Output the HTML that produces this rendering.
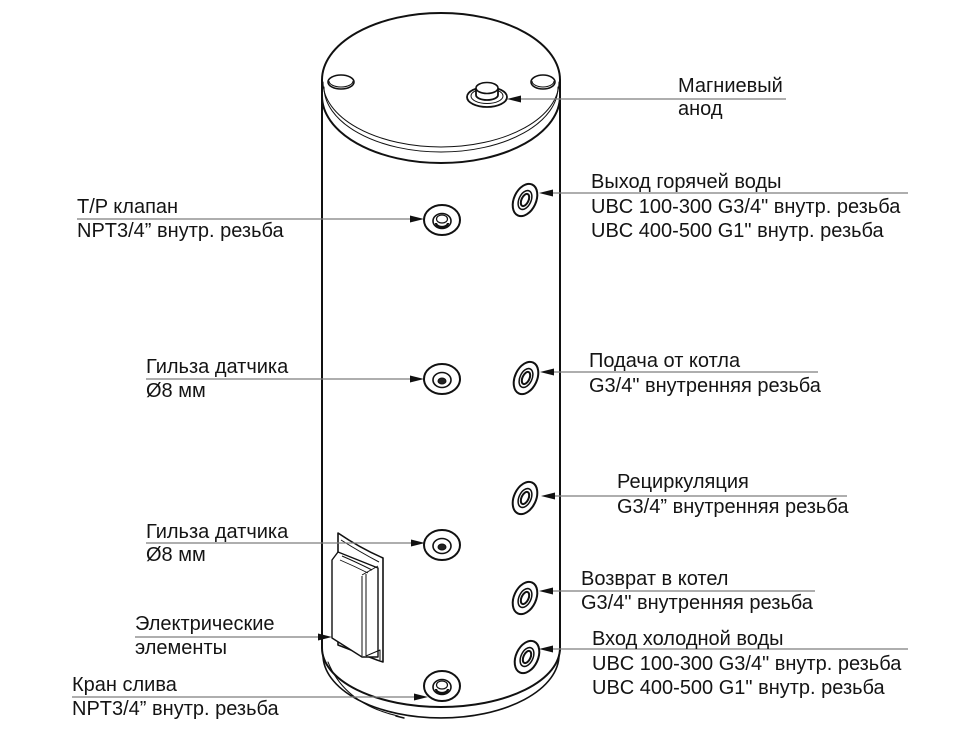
<!DOCTYPE html>
<html>
<head>
<meta charset="utf-8">
<style>
html,body{margin:0;padding:0;background:#fff;}
svg{display:block;}
text{font-family:"Liberation Sans","DejaVu Sans",sans-serif;font-size:20px;fill:#141414;}
</style>
</head>
<body>
<svg width="975" height="740" viewBox="0 0 975 740" xmlns="http://www.w3.org/2000/svg">
  <!-- Tank body -->
  <g fill="none" stroke="#111" stroke-linecap="round">
    <line x1="322" y1="80" x2="322" y2="648" stroke-width="2"/>
    <line x1="560" y1="80" x2="560" y2="650" stroke-width="2"/>
    <path d="M322,80 A119,67 0 0 1 560,80" stroke-width="2"/>
    <path d="M323,82 A118,65 0 0 0 559,82" stroke-width="1"/>
    <path d="M324,87 A117,65 0 0 0 558,87" stroke-width="1"/>
    <path d="M322,96 A119,67 0 0 0 560,96" stroke-width="2"/>
    <path d="M322,648 A119,59 0 0 0 560,648" stroke-width="2"/>
    <path d="M323,655 A118,63 0 0 0 559,655" stroke-width="1.6"/>
    <path d="M328,662 Q345,704 398,716" stroke-width="1"/>
    <line x1="396" y1="716" x2="404" y2="718" stroke-width="1.5"/>
  </g>

  <!-- top nubs -->
  <g fill="#fff" stroke="#111">
    <ellipse cx="341" cy="82" rx="13" ry="7" stroke-width="1.6"/>
    <path d="M329,81 A12,6 0 0 0 353,81" fill="none" stroke-width="1"/>
    <ellipse cx="543" cy="82" rx="12" ry="7" stroke-width="1.6"/>
    <path d="M532,81 A11,6 0 0 0 554,81" fill="none" stroke-width="1"/>
    <!-- anode -->
    <ellipse cx="487" cy="97" rx="20" ry="10" stroke-width="1.8"/>
    <ellipse cx="487" cy="96" rx="16" ry="7.5" stroke-width="1"/>
    <path d="M476,88 L476,95 A11,5 0 0 0 498,95 L498,88" stroke-width="1.8"/>
    <ellipse cx="487" cy="88" rx="11" ry="5.5" stroke-width="1.6"/>
  </g>

  <!-- front fittings (left column) -->
  <g fill="#fff" stroke="#111">
    <g transform="translate(442,220)">
      <ellipse cx="0" cy="0" rx="18" ry="15" stroke-width="2"/>
      <ellipse cx="0" cy="1" rx="9" ry="7.5" stroke-width="1.6"/>
      <ellipse cx="0" cy="-1" rx="5.5" ry="4" stroke-width="1.2"/>
      <path d="M-6,3 A6,4 0 0 0 6,3" fill="none" stroke-width="2.2"/>
    </g>
    <g transform="translate(442,379)">
      <ellipse cx="0" cy="0" rx="18" ry="15" stroke-width="2"/>
      <ellipse cx="0" cy="1" rx="9" ry="7.5" stroke-width="1.6"/>
      <ellipse cx="0" cy="2" rx="4" ry="3" fill="#222" stroke-width="1"/>
    </g>
    <g transform="translate(442,545)">
      <ellipse cx="0" cy="0" rx="18" ry="15" stroke-width="2"/>
      <ellipse cx="0" cy="1" rx="9" ry="7.5" stroke-width="1.6"/>
      <ellipse cx="0" cy="2" rx="4" ry="3" fill="#222" stroke-width="1"/>
    </g>
    <g transform="translate(442,686)">
      <ellipse cx="0" cy="0" rx="18" ry="15" stroke-width="2"/>
      <ellipse cx="0" cy="1" rx="9" ry="7.5" stroke-width="1.6"/>
      <ellipse cx="0" cy="-1" rx="5.5" ry="4" stroke-width="1.2"/>
      <path d="M-6,3 A6,4 0 0 0 6,3" fill="none" stroke-width="2.2"/>
    </g>
  </g>

  <!-- side fittings (right column) -->
  <g fill="#fff" stroke="#111">
    <g transform="translate(525,200) rotate(25)">
      <ellipse rx="11" ry="17" stroke-width="2"/>
      <ellipse rx="6" ry="10" stroke-width="1.5"/>
      <ellipse rx="3.5" ry="6.5" stroke-width="2"/>
    </g>
    <g transform="translate(526,378) rotate(25)">
      <ellipse rx="11" ry="17" stroke-width="2"/>
      <ellipse rx="6" ry="10" stroke-width="1.5"/>
      <ellipse rx="3.5" ry="6.5" stroke-width="2"/>
    </g>
    <g transform="translate(525,498) rotate(25)">
      <ellipse rx="11" ry="17" stroke-width="2"/>
      <ellipse rx="6" ry="10" stroke-width="1.5"/>
      <ellipse rx="3.5" ry="6.5" stroke-width="2"/>
    </g>
    <g transform="translate(525,598) rotate(25)">
      <ellipse rx="11" ry="17" stroke-width="2"/>
      <ellipse rx="6" ry="10" stroke-width="1.5"/>
      <ellipse rx="3.5" ry="6.5" stroke-width="2"/>
    </g>
    <g transform="translate(527,657) rotate(25)">
      <ellipse rx="11" ry="17" stroke-width="2"/>
      <ellipse rx="6" ry="10" stroke-width="1.5"/>
      <ellipse rx="3.5" ry="6.5" stroke-width="2"/>
    </g>
  </g>

  <!-- electric element -->
  <g fill="#fff" stroke="#111" stroke-linejoin="round">
    <path d="M338,533 Q360,548 383,558 L383,662 L377,660 L338,645 Z" stroke-width="1.6"/>
    <path d="M341,540 Q360,552 379,562" fill="none" stroke-width="1"/>
    <path d="M332,560 L338,552 Q358,560 378,568 L378,657 L362,657 L332,638 Z" stroke-width="1.4"/>
    <path d="M342,556 Q356,562 372,570" fill="none" stroke-width="1"/>
    <path d="M340,560 Q354,566 368,573" fill="none" stroke-width="0.8"/>
    <line x1="362" y1="575" x2="378" y2="566" stroke-width="1"/>
    <line x1="362" y1="576" x2="362" y2="656" stroke-width="1"/>
    <line x1="366" y1="574" x2="366" y2="656" stroke-width="1"/>
    <path d="M366,656 L380,650 L380,660" fill="none" stroke-width="1"/>
  </g>

  <!-- callout lines -->
  <g stroke="#7d7d7d" stroke-width="1.3">
    <line x1="77" y1="219" x2="412" y2="219"/>
    <line x1="146" y1="379" x2="412" y2="379"/>
    <line x1="146" y1="543" x2="413" y2="543"/>
    <line x1="135" y1="637" x2="320" y2="637"/>
    <line x1="72" y1="697" x2="416" y2="697"/>
    <line x1="518" y1="99" x2="786" y2="99"/>
    <line x1="550" y1="193" x2="908" y2="193"/>
    <line x1="551" y1="372" x2="818" y2="372"/>
    <line x1="552" y1="496" x2="847" y2="496"/>
    <line x1="550" y1="591" x2="815" y2="591"/>
    <line x1="550" y1="649" x2="908" y2="649"/>
  </g>

  <!-- arrowheads -->
  <g fill="#111">
    <polygon points="424,219 410,215.5 410,222.5"/>
    <polygon points="424,379 410,375.5 410,382.5"/>
    <polygon points="425,543 411,539.5 411,546.5"/>
    <polygon points="332,637 318,633.5 318,640.5"/>
    <polygon points="428,697 414,693.5 414,700.5"/>
    <polygon points="507,99 521,95.5 521,102.5"/>
    <polygon points="539,193 553,189.5 553,196.5"/>
    <polygon points="540,372 554,368.5 554,375.5"/>
    <polygon points="541,496 555,492.5 555,499.5"/>
    <polygon points="539,591 553,587.5 553,594.5"/>
    <polygon points="539,649 553,645.5 553,652.5"/>
  </g>

  <!-- left labels -->
  <text x="77" y="213">T/P клапан</text>
  <text x="77" y="237">NPT3/4” внутр. резьба</text>
  <text x="146" y="373">Гильза датчика</text>
  <text x="146" y="397">Ø8 мм</text>
  <text x="146" y="538">Гильза датчика</text>
  <text x="146" y="561">Ø8 мм</text>
  <text x="135" y="630">Электрические</text>
  <text x="135" y="654">элементы</text>
  <text x="72" y="691">Кран слива</text>
  <text x="72" y="715">NPT3/4” внутр. резьба</text>

  <!-- right labels -->
  <text x="678" y="92">Магниевый</text>
  <text x="678" y="115">анод</text>
  <text x="591" y="188">Выход горячей воды</text>
  <text x="591" y="213">UBC 100-300 G3/4" внутр. резьба</text>
  <text x="591" y="237">UBC 400-500 G1" внутр. резьба</text>
  <text x="589" y="367">Подача от котла</text>
  <text x="589" y="392">G3/4" внутренняя резьба</text>
  <text x="617" y="488">Рециркуляция</text>
  <text x="617" y="513">G3/4” внутренняя резьба</text>
  <text x="581" y="585">Возврат в котел</text>
  <text x="581" y="609">G3/4" внутренняя резьба</text>
  <text x="592" y="645">Вход холодной воды</text>
  <text x="592" y="670">UBC 100-300 G3/4" внутр. резьба</text>
  <text x="592" y="694">UBC 400-500 G1" внутр. резьба</text>
</svg>
</body>
</html>
